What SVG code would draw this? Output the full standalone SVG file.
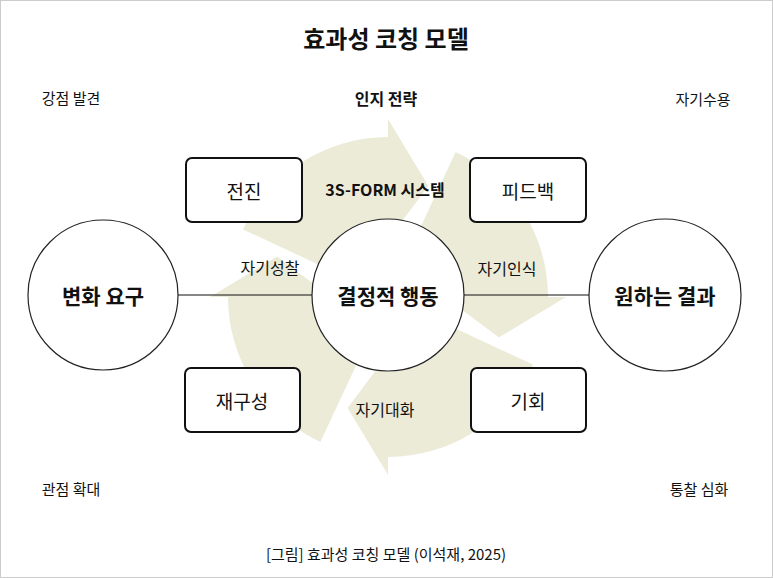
<svg xmlns="http://www.w3.org/2000/svg" width="773" height="578" viewBox="0 0 773 578">
<style>
text{font-family:"Noto Sans CJK KR","Noto Sans",sans-serif;fill:#111;text-anchor:middle;dominant-baseline:central}
.cyc{fill:#ecebd8}
.box{fill:#fff;stroke:#111;stroke-width:2}
.cir{fill:#fff;stroke:#222;stroke-width:1.2}
.ln{stroke:#111;stroke-width:1.2}
.b{font-weight:700}
</style>
<defs>
<path id="seg" d="M-145,-67.6 A160,160 0 0 1 0,-160 L0,-178 L40.4,-110.9 L0,-57 L0,-75 A75,75 0 0 0 -68,-31.7 Z"/>
</defs>
<rect x="0.5" y="0.5" width="772" height="577" fill="#fff" stroke="#ccc"/>
<g id="cycle" class="cyc" transform="translate(388,297)">
<use href="#seg"/>
<use href="#seg" transform="rotate(90)"/>
<use href="#seg" transform="rotate(180)"/>
<use href="#seg" transform="rotate(270)"/>
</g>
<g id="connectors">
<line class="ln" x1="178" y1="295" x2="312" y2="295"/>
<line class="ln" x1="464" y1="295" x2="590" y2="295"/>
</g>
<text x="386" y="37" class="b" font-size="24">효과성 코칭 모델</text>
<text x="386" y="98" class="b" font-size="16">인지 전략</text>
<text x="71" y="97" font-size="15">강점 발견</text>
<text x="703" y="98" font-size="15">자기수용</text>
<text x="71" y="488" font-size="15">관점 확대</text>
<text x="699" y="488" font-size="15">통찰 심화</text>
<text x="386" y="553" font-size="15">[그림] 효과성 코칭 모델 (이석재, 2025)</text>
<text x="385" y="189" class="b" font-size="16">3S-FORM 시스템</text>
<text x="270" y="267" font-size="16">자기성찰</text>
<text x="507" y="268" font-size="16">자기인식</text>
<text x="385" y="409" font-size="16">자기대화</text>
<g id="n1"><circle class="cir" cx="103" cy="295" r="75"/><text x="103" y="295" class="b" font-size="21">변화 요구</text></g>
<g id="n2"><circle class="cir" cx="388" cy="295" r="76"/><text x="388" y="295" class="b" font-size="21">결정적 행동</text></g>
<g id="n3"><circle class="cir" cx="665" cy="295" r="76"/><text x="665" y="295" class="b" font-size="21">원하는 결과</text></g>
<g id="b1"><rect class="box" x="186" y="158" width="116" height="64" rx="6"/><text x="244" y="190" font-size="19">전진</text></g>
<g id="b2"><rect class="box" x="470" y="158" width="116" height="64" rx="6"/><text x="528" y="190" font-size="19">피드백</text></g>
<g id="b3"><rect class="box" x="185" y="368" width="115" height="64" rx="6"/><text x="242" y="400" font-size="19">재구성</text></g>
<g id="b4"><rect class="box" x="471" y="368" width="115" height="64" rx="6"/><text x="528" y="400" font-size="19">기회</text></g>
</svg>
